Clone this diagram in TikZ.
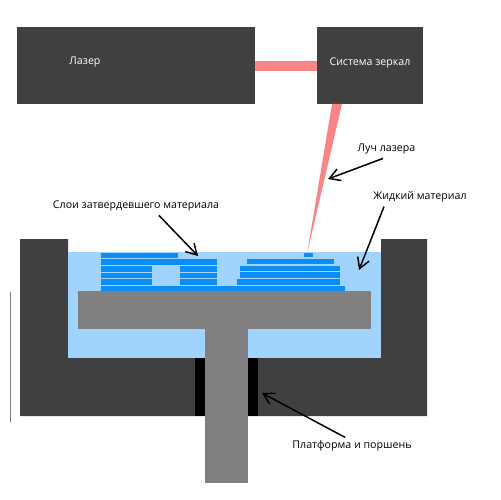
\documentclass[tikz,border=0pt]{standalone}
\usepackage{fontspec}
\setmainfont{Open Sans}
\usetikzlibrary{arrows.meta}
\definecolor{wall}{HTML}{404040}
\definecolor{beam}{HTML}{F98585}
\definecolor{liquid}{HTML}{A0D4FF}
\definecolor{layer}{HTML}{0A8EF5}
\definecolor{steel}{HTML}{808080}
\tikzset{
  lbl/.style={font=\fontsize{6.05pt}{7pt}\selectfont, inner sep=0pt},
  pointer/.style={line width=0.85pt, -{Straight Barb[length=6pt,width=7pt,line width=0.85pt]}}
}
\begin{document}
\begin{tikzpicture}[x=0.02cm, y=-0.02cm]
  \useasboundingbox (0,0) rectangle (500,500);
  % laser and mirrors
  \fill[wall] (17,27) rectangle (255,104);
  \fill[wall] (317,27) rectangle (423,104);
  \fill[beam] (255,61) rectangle (317,71);
  % tank
  \fill[wall] (20,239) -- (68,239) -- (68,358) -- (381,358) -- (381,239) -- (427,239)
    -- (427,416) -- (20,416) -- cycle;
  \fill[liquid] (68,252) rectangle (381,358);
  \fill[black] (195,358) rectangle (258,416);
  \fill[beam] (332,104) -- (342,104) -- (307,254) -- cycle;
  % left hand layers
  \fill[layer] (101,253) rectangle (178,258);
  \fill[layer] (101,259) rectangle (217,265);
  \fill[layer] (101,266) rectangle (152,272);
  \fill[layer] (180,266) rectangle (217,272);
  \fill[layer] (101,273) rectangle (152,278);
  \fill[layer] (180,273) rectangle (217,278);
  \fill[layer] (101,279) rectangle (152,285);
  \fill[layer] (180,279) rectangle (217,285);
  % right hand layers
  \fill[layer] (304,253) rectangle (313,257);
  \fill[layer] (247,258.5) rectangle (334,264);
  \fill[layer] (240,265.5) rectangle (340,271);
  \fill[layer] (240,272) rectangle (340,278);
  \fill[layer] (237,279) rectangle (340,285);
  \fill[layer] (101,286) rectangle (345,291);
  % platform and piston
  \fill[steel] (78,291) rectangle (371,329);
  \fill[steel] (205,329) rectangle (248,483);
  % stray line on the left
  \draw[steel, line width=0.5pt] (10,292) -- (10,422);
  % labels
  \node[lbl, text=white] (laser) at (85,62) {Лазер};
  \node[lbl, text=white] (mirrors) at (370,63) {Система зеркал};
  \node[lbl] (ray) at (386.5,149) {Луч лазера};
  \node[lbl] (fluid) at (420,197) {Жидкий материал};
  \node[lbl] (cured) at (136,206) {Слои затвердевшего материала};
  \node[lbl] (piston) at (352,446) {Платформа и поршень};
  % arrows
  \coordinate (rayend) at (328,179);
  \coordinate (fluidend) at (359,270);
  \coordinate (curedend) at (198,256);
  \coordinate (pistonend) at (262,393);
  \draw[pointer] (ray.south) ++(-3.5,4) -- (rayend);
  \draw[pointer] (fluid.south) ++(-36,4) -- (fluidend);
  \draw[pointer] (cured.south) ++(23,4) -- (curedend);
  \draw[pointer] (piston.north) ++(-7,-3) -- (pistonend);
\end{tikzpicture}
\end{document}
